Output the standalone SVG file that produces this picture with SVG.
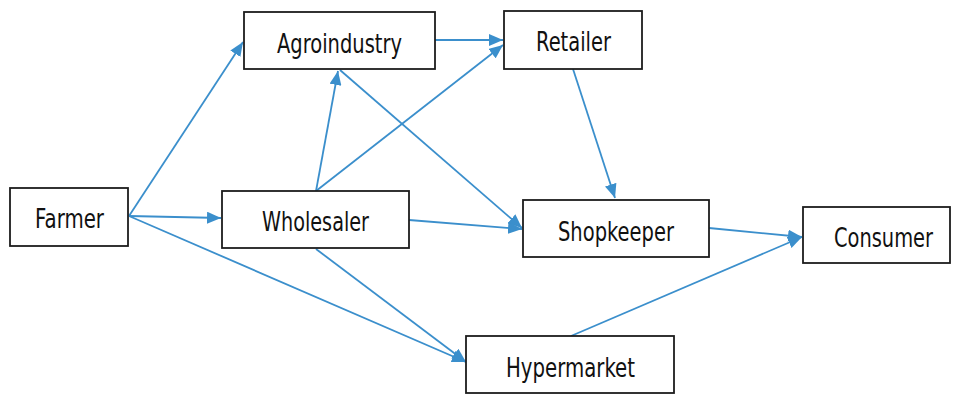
<svg xmlns="http://www.w3.org/2000/svg" width="954" height="396" viewBox="0 0 954 396">
<defs>
<marker id="arr" markerUnits="userSpaceOnUse" markerWidth="14" markerHeight="12" viewBox="0 0 14 12" refX="14" refY="6" orient="auto">
<path d="M0,0 L14,6 L0,12 z" fill="#3b8fcc"/>
</marker>
<style>
.box{fill:#fff;stroke:#1c1c1c;stroke-width:1.8}
.lbl{font-family:"DejaVu Sans",Verdana,sans-serif;font-size:26px;fill:#111;text-anchor:middle}
.edge{stroke:#3b8fcc;stroke-width:1.8;fill:none;marker-end:url(#arr)}
</style>
</defs>
<rect width="954" height="396" fill="#fff"/>
<g id="connectors">
<line class="edge" x1="129" y1="216" x2="243" y2="42"/>
<line class="edge" x1="129" y1="216" x2="221" y2="218"/>
<line class="edge" x1="129" y1="216" x2="466" y2="362"/>
<line class="edge" x1="316" y1="249" x2="466" y2="362"/>
<line class="edge" x1="316" y1="191" x2="338" y2="71"/>
<line class="edge" x1="316" y1="191" x2="503" y2="45"/>
<line class="edge" x1="435" y1="40" x2="503" y2="40"/>
<line class="edge" x1="340" y1="70" x2="522" y2="228"/>
<line class="edge" x1="409" y1="220" x2="522" y2="229"/>
<line class="edge" x1="573" y1="69" x2="615" y2="198"/>
<line class="edge" x1="709" y1="228" x2="802" y2="237"/>
<line class="edge" x1="571" y1="336" x2="802" y2="237"/>
</g>
<g id="farmer"><rect class="box" x="10" y="188" width="118" height="58"/><text class="lbl" transform="scale(0.75,1)" x="92.67" y="228" textLength="92" lengthAdjust="spacingAndGlyphs">Farmer</text></g>
<g id="agroindustry"><rect class="box" x="244" y="12" width="191" height="57"/><text class="lbl" transform="scale(0.75,1)" x="452.67" y="53" textLength="166.67" lengthAdjust="spacingAndGlyphs">Agroindustry</text></g>
<g id="wholesaler"><rect class="box" x="222" y="191" width="187" height="57"/><text class="lbl" transform="scale(0.75,1)" x="420.67" y="231" textLength="142.67" lengthAdjust="spacingAndGlyphs">Wholesaler</text></g>
<g id="retailer"><rect class="box" x="504" y="11" width="138" height="58"/><text class="lbl" transform="scale(0.75,1)" x="764.67" y="51" textLength="100" lengthAdjust="spacingAndGlyphs">Retailer</text></g>
<g id="shopkeeper"><rect class="box" x="523" y="200" width="186" height="57"/><text class="lbl" transform="scale(0.75,1)" x="821.33" y="241" textLength="154.67" lengthAdjust="spacingAndGlyphs">Shopkeeper</text></g>
<g id="consumer"><rect class="box" x="803" y="207" width="147" height="56"/><text class="lbl" transform="scale(0.75,1)" x="1178" y="247" textLength="132" lengthAdjust="spacingAndGlyphs">Consumer</text></g>
<g id="hypermarket"><rect class="box" x="466" y="336" width="208" height="57"/><text class="lbl" transform="scale(0.75,1)" x="760.67" y="377" textLength="172" lengthAdjust="spacingAndGlyphs">Hypermarket</text></g>
</svg>
